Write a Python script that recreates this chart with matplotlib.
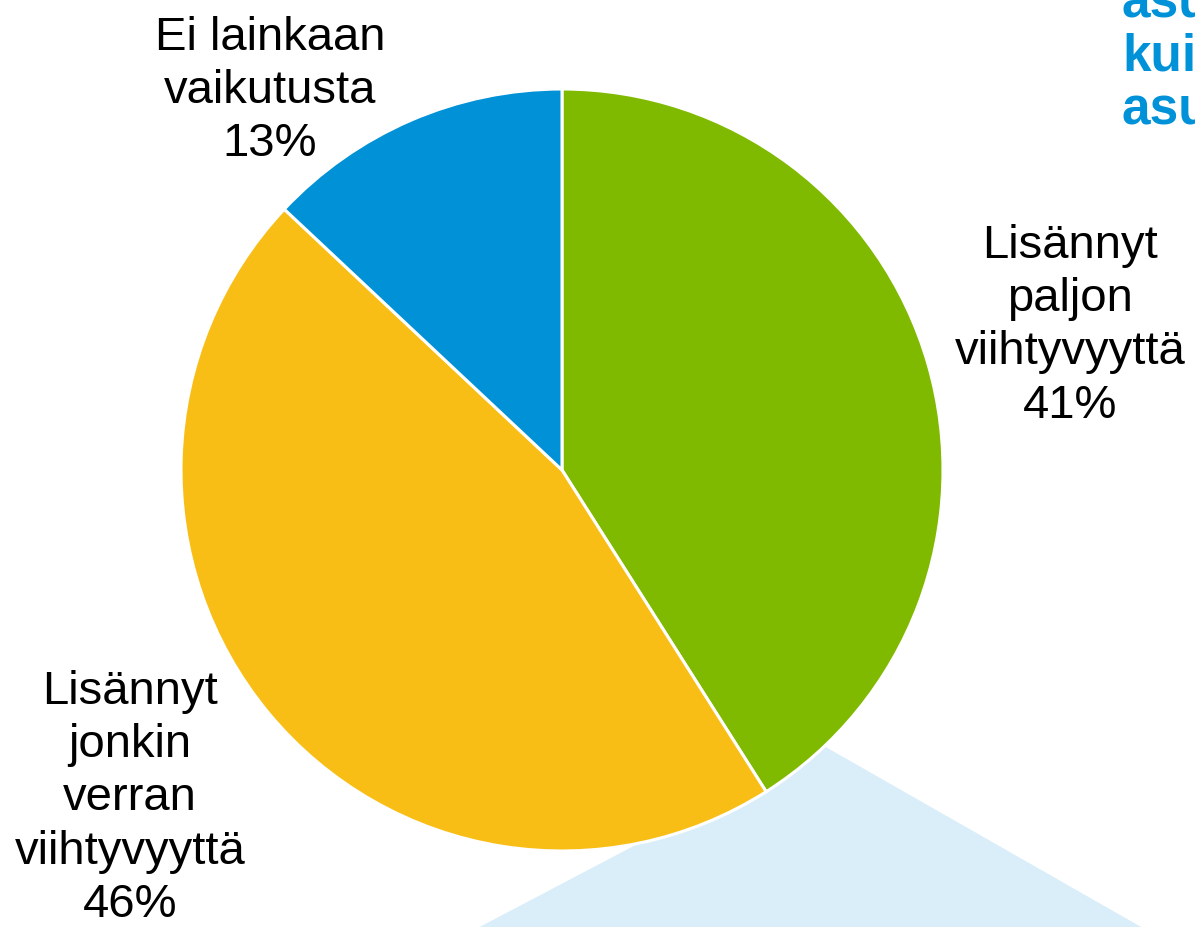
import matplotlib
matplotlib.use("Agg")
import matplotlib.pyplot as plt
from matplotlib.patches import Polygon

categories = ["Lisännyt paljon viihtyvyyttä", "Lisännyt jonkin verran viihtyvyyttä", "Ei lainkaan vaikutusta"]
label_lines = ["Lisännyt\npaljon\nviihtyvyyttä", "Lisännyt\njonkin\nverran\nviihtyvyyttä", "Ei lainkaan\nvaikutusta"]
values = [41, 46, 13]
colors = ["#7FBA00", "#F9BE16", "#0091D7"]

plt.rcParams['font.family'] = ['Liberation Sans', 'DejaVu Sans']

W, H = 1195, 928
fig = plt.figure(figsize=(W / 100, H / 100), dpi=100)
ax = fig.add_axes([0, 0, 1, 1])

# light blue callout triangle behind the pie
tri = Polygon([(824, H - 747), (470, -5), (1150, -5)], closed=True,
              facecolor="#DAEEF9", edgecolor="none", zorder=0)
ax.add_patch(tri)

cx, cy, r = 562, H - 471, 381
ax.pie(values, colors=colors, startangle=90, counterclock=False,
       center=(cx, cy), radius=r, frame=True,
       wedgeprops=dict(edgecolor="white", linewidth=2.2, zorder=2))
ax.set_xlim(0, W)
ax.set_ylim(0, H)
ax.set_aspect('equal')
ax.axis('off')

fs = 34
label_pos = [(1070, H - 224), (130, H - 670), (270, H - 16)]
for (x, y), txt, v in zip(label_pos, label_lines, values):
    ax.text(x, y, f"{txt}\n{v}%", ha='center', va='top', fontsize=fs,
            color='black', linespacing=1.27, zorder=5)

# partially visible title text at top right (clipped by the figure edge as in the original)
ax.text(1122, H + 21, "asu\nkuin\nasu", ha='left', va='top',
        fontsize=37, fontweight='bold', color="#0092D8", linespacing=1.12,
        zorder=5)

fig.savefig("out.png", dpi=100)
